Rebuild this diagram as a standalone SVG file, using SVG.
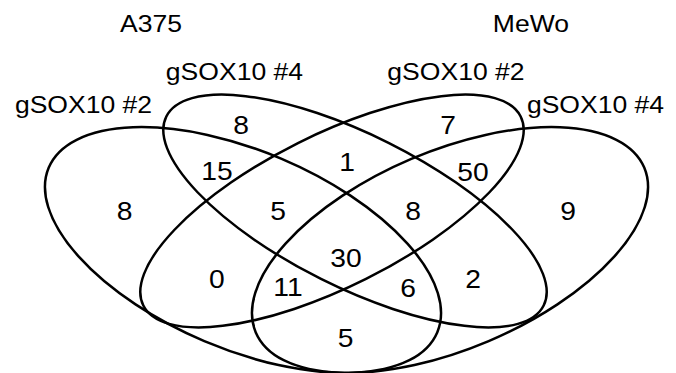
<svg xmlns="http://www.w3.org/2000/svg" width="676" height="373" viewBox="0 0 676 373">
  <style>
    .set { fill: none; stroke: #000; stroke-width: 2.5; }
    .lbl { font-family: "Liberation Sans", Arial, sans-serif; font-size: 23.5px; fill: #000; text-anchor: middle; }
    .num { font-family: "Liberation Sans", Arial, sans-serif; font-size: 25px; fill: #000; text-anchor: middle; }
  </style>
  <rect width="676" height="373" fill="#fff"/>

  <!-- cell line headers -->
  <g id="headers" transform="scale(1.13 1)">
    <text class="lbl" x="133.6" y="32">A375</text>
    <text class="lbl" x="469.9" y="32">MeWo</text>
  </g>

  <!-- A375 gSOX10 #2 -->
  <g id="set-a375-g2">
    <ellipse class="set" cx="243" cy="250" rx="211" ry="99" transform="rotate(23 243 250)"/>
    <text class="lbl" x="73.9" y="113" transform="scale(1.13 1)">gSOX10 #2</text>
  </g>

  <!-- A375 gSOX10 #4 -->
  <g id="set-a375-g4">
    <ellipse class="set" cx="355" cy="211" rx="211" ry="76" transform="rotate(26.6 355 211)"/>
    <text class="lbl" x="207.5" y="80" transform="scale(1.13 1)">gSOX10 #4</text>
  </g>

  <!-- MeWo gSOX10 #2 -->
  <g id="set-mewo-g2">
    <ellipse class="set" cx="332" cy="211" rx="211" ry="76" transform="rotate(-26.6 332 211)"/>
    <text class="lbl" x="403.5" y="80" transform="scale(1.13 1)">gSOX10 #2</text>
  </g>

  <!-- MeWo gSOX10 #4 -->
  <g id="set-mewo-g4">
    <ellipse class="set" cx="450" cy="250" rx="211" ry="99" transform="rotate(-23 450 250)"/>
    <text class="lbl" x="527.0" y="113" transform="scale(1.13 1)">gSOX10 #4</text>
  </g>

  <!-- region counts -->
  <g id="counts" transform="scale(1.13 1)">
    <text class="num" x="110.2" y="220">8</text>
    <text class="num" x="213.3" y="134">8</text>
    <text class="num" x="192.0" y="180">15</text>
    <text class="num" x="246.0" y="220">5</text>
    <text class="num" x="192.0" y="288">0</text>
    <text class="num" x="254.9" y="296">11</text>
    <text class="num" x="307.1" y="171">1</text>
    <text class="num" x="396.5" y="134">7</text>
    <text class="num" x="418.6" y="181">50</text>
    <text class="num" x="365.5" y="220">8</text>
    <text class="num" x="502.7" y="220">9</text>
    <text class="num" x="306.2" y="267">30</text>
    <text class="num" x="361.1" y="297">6</text>
    <text class="num" x="418.6" y="288">2</text>
    <text class="num" x="305.8" y="347">5</text>
  </g>
</svg>
